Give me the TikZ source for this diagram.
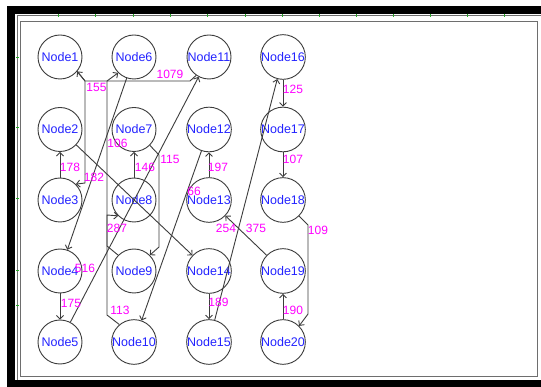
\documentclass[tikz,border=0pt]{standalone}
\usepackage{fontspec}
\setmainfont{Liberation Sans}
\usetikzlibrary{arrows.meta}
\definecolor{nodeblue}{RGB}{35,35,255}
\definecolor{lblmag}{RGB}{255,0,255}
\definecolor{edgegray}{RGB}{60,60,60}
\definecolor{framegray}{RGB}{110,110,110}
\definecolor{tickgreen}{RGB}{40,170,40}
\begin{document}
\begin{tikzpicture}[x=1pt,y=-1pt,
  gnode/.style={circle,draw=edgegray,line width=0.9pt,minimum size=44pt,inner sep=0pt,text=nodeblue,font=\fontsize{12.5}{13}\selectfont},
  wlabel/.style={text=lblmag,font=\fontsize{12}{12}\selectfont,inner sep=0pt},
  conn/.style={draw=edgegray,line width=0.9pt,-{Straight Barb[length=3.5pt,width=7pt]}},
  plain/.style={draw=edgegray,line width=0.9pt},
]
% canvas and frame
\useasboundingbox (0,0) rectangle (541,387);
\fill[white] (0,0) rectangle (541,387);
\fill[black] (7,6) rectangle (541,14);
\fill[black] (7,6) rectangle (15,387);
\fill[black] (7,380) rectangle (541,387);
\draw[framegray,line width=0.8pt] (20,21) -- (537,21) -- (537,376) -- (20,376) -- cycle;
\draw[framegray,line width=0.6pt] (17,15.5) -- (541,15.5);
\draw[framegray,line width=0.6pt] (17.5,15.5) -- (17.5,380);
\foreach \t in {58,95,133,170,207,245,282,319,356,393,430,467,504}
  \draw[tickgreen,line width=1pt] (\t,14.5) -- (\t,17.5);
\foreach \t in {58,128,199,271,306}
  \draw[tickgreen,line width=1pt] (16,\t) -- (19,\t);

% nodes
\node[gnode] (n1)  at (60,57)    {Node1};
\node[gnode] (n2)  at (60,129.5) {Node2};
\node[gnode] (n3)  at (60,200)   {Node3};
\node[gnode] (n4)  at (60,271)   {Node4};
\node[gnode] (n5)  at (60,342)   {Node5};
\node[gnode] (n6)  at (134,57)    {Node6};
\node[gnode] (n7)  at (134,129.5) {Node7};
\node[gnode] (n8)  at (134,200)   {Node8};
\node[gnode] (n9)  at (134,271)   {Node9};
\node[gnode] (n10) at (134,342)   {Node10};
\node[gnode] (n11) at (209,57)    {Node11};
\node[gnode] (n12) at (209,129.5) {Node12};
\node[gnode] (n13) at (209,200)   {Node13};
\node[gnode] (n14) at (209,271)   {Node14};
\node[gnode] (n15) at (209,342)   {Node15};
\node[gnode] (n16) at (283,57)    {Node16};
\node[gnode] (n17) at (283,129.5) {Node17};
\node[gnode] (n18) at (283,200)   {Node18};
\node[gnode] (n19) at (283,271)   {Node19};
\node[gnode] (n20) at (283,342)   {Node20};

% bend points
\coordinate (b1) at (85,81);
\coordinate (b2) at (190,81);
\coordinate (b3) at (85,183);
\coordinate (b4) at (107,81);
\coordinate (b5) at (107,315);
\coordinate (b6) at (107,246);
\coordinate (b7) at (107,215);
\coordinate (b8) at (159,155);
\coordinate (b9) at (159,247);
\coordinate (b10) at (308,225);
\coordinate (b11) at (308,314);

% vertical edges
\draw[conn] (n3) -- (n2);
\draw[conn] (n4) -- (n5);
\draw[conn] (n8) -- (n7);
\draw[conn] (n13) -- (n12);
\draw[conn] (n14) -- (n15);
\draw[conn] (n16) -- (n17);
\draw[conn] (n17) -- (n18);
\draw[conn] (n20) -- (n19);

% straight diagonals
\draw[conn] (n6) -- (n4);
\draw[conn] (n5) -- (n11);
\draw[conn] (n2) -- (n14);
\draw[conn] (n12) -- (n10);
\draw[conn] (n15) -- (n16);
\draw[conn] (n19) -- (n13);

% routed edges
\draw[conn] (n11.235) -- (b2) -- (b1) -- (n1.-40);
\draw[conn] (n1.-40) -- (b1) -- (b3) -- (n3.45);
\draw[conn] (n10.130) -- (b5) -- (b4) -- (n6.225);
\draw[conn] (n9.135) -- (b6) -- (b7) -- (n8.225);
\draw[conn] (n7.-45) -- (b8) -- (b9) -- (n9.45);
\draw[conn] (n18.-45) -- (b10) -- (b11) -- (n20.45);

% weight labels
\node[wlabel] (w155)  at (96.5,87)  {155};
\node[wlabel] (w1079) at (170,74)   {1079};
\node[wlabel] (w178)  at (70,167)   {178};
\node[wlabel] (w182)  at (94,177)   {182};
\node[wlabel] (w106)  at (117.5,143) {106};
\node[wlabel] (w146)  at (145,167)  {146};
\node[wlabel] (w115)  at (170,159.5) {115};
\node[wlabel] (w287)  at (117,228)  {287};
\node[wlabel] (w516)  at (85,268)   {516};
\node[wlabel] (w175)  at (71,303)   {175};
\node[wlabel] (w113)  at (120,310)  {113};
\node[wlabel] (w66)   at (194,191)  {66};
\node[wlabel] (w197)  at (218,167)  {197};
\node[wlabel] (w125)  at (293,89)   {125};
\node[wlabel] (w107)  at (293,159)  {107};
\node[wlabel] (w109)  at (318,230)  {109};
\node[wlabel] (w254)  at (226,228)  {254};
\node[wlabel] (w375)  at (256,228)  {375};
\node[wlabel] (w189)  at (218.5,302) {189};
\node[wlabel] (w190)  at (293,310)  {190};
\end{tikzpicture}
\end{document}
